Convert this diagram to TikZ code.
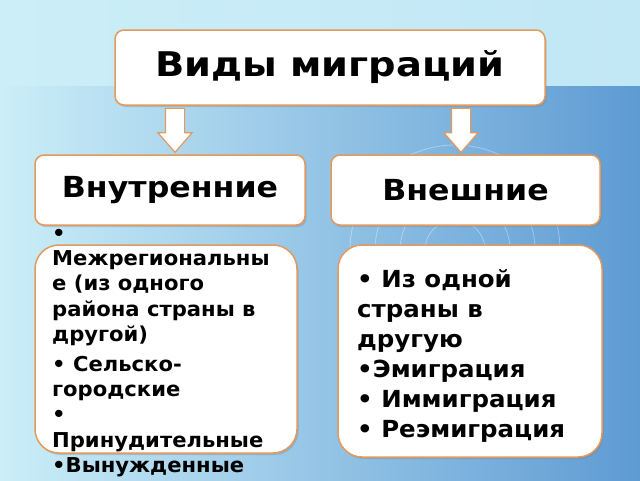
\documentclass[tikz,border=0pt]{standalone}
\usepackage{fontspec}
\setmainfont{DejaVu Sans}
\newfontfamily\wideA[FakeStretch=1.13]{DejaVu Sans}
\newfontfamily\wideB[FakeStretch=1.09]{DejaVu Sans}
\newfontfamily\wideC[FakeStretch=1.04]{DejaVu Sans}
\newfontfamily\wideD[FakeStretch=1.03]{DejaVu Sans}
\usepackage{tikz}
\usetikzlibrary{shapes,arrows,positioning,shadows}

\definecolor{boxline}{HTML}{E39A5C}
\definecolor{bgleft}{HTML}{CBEEF8}
\definecolor{bgmid}{HTML}{8FD6F1}
\definecolor{bgright}{HTML}{5E9BD3}
\definecolor{bgtop}{HTML}{C2E7F5}

\begin{document}
\begin{tikzpicture}[x=1pt, y=-1pt,
  box/.style={draw=boxline, line width=1.5pt, fill=white, rounded corners=9pt, drop shadow={shadow xshift=1.5pt, shadow yshift=-2pt, opacity=.35}},
  bigbox/.style={box, rounded corners=24pt},
  downarrow/.style={single arrow, draw=boxline, line width=1.2pt, fill=white, shape border rotate=270, minimum height=44pt, minimum width=33pt, single arrow head extend=7.5pt, single arrow tip angle=82, inner sep=9pt},
  listtext/.style={align=left, anchor=north west, inner sep=0pt}]
\useasboundingbox (0,0) rectangle (640,480);

% background
\fill[left color=bgleft, middle color=bgmid, right color=bgright] (0,0) rectangle (640,480);
\fill[left color=bgleft, right color=bgtop] (0,0) rectangle (640,85);
\foreach \r in {30,55,80,105}
  \draw[white, opacity=.35, line width=.8pt] (455,250) circle (\r);

% boxes
\node[box, minimum width=430pt, minimum height=75pt, font=\wideA\bfseries\fontsize{34}{40}\selectfont] (title) at (330,67.5) {Виды миграций};
\node[downarrow, anchor=tail] (arrL) at ([xshift=-155pt, yshift=-2pt]title.south) {};
\node[downarrow, anchor=tail] (arrR) at ([xshift=131pt, yshift=-2pt]title.south) {};
\node[box, minimum width=270pt, minimum height=70pt, font=\wideB\bfseries\fontsize{29}{34}\selectfont] (inner) at (170,190) {Внутренние};
\node[box, minimum width=269pt, minimum height=70pt, font=\wideB\bfseries\fontsize{29}{34}\selectfont] (outer) at (465.5,190) {Внешние};
\node[bigbox, minimum width=262pt, minimum height=208pt] (innerlist) at (166,349) {};
\node[bigbox, minimum width=264pt, minimum height=212pt] (outerlist) at (470,351) {};

% lists
\node[listtext, font=\wideD\bfseries\fontsize{20.5}{25.2}\selectfont] (innertext) at (52,229) {•\\
Межрегиональны\\
е (из одного\\
района страны в\\
другой)\\[5pt]
• Сельско-\\
городские\\
•\\
Принудительные\\
•Вынужденные};
\node[listtext, font=\wideC\bfseries\fontsize{23.5}{30}\selectfont] (outertext) at (357,269) {• Из одной\\
страны в\\
другую\\
•Эмиграция\\
• Иммиграция\\
• Реэмиграция};
\end{tikzpicture}
\end{document}
